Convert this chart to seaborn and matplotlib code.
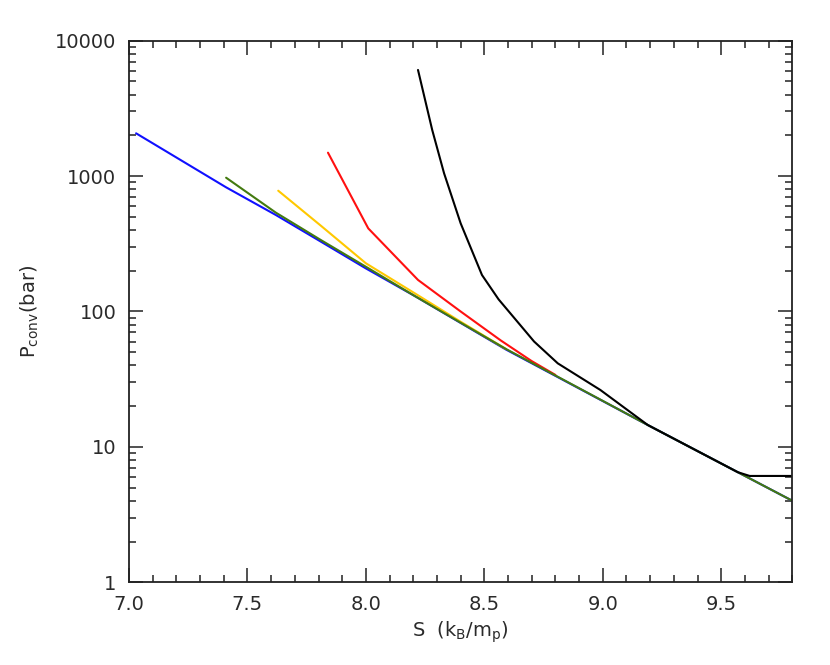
import pandas as pd
import matplotlib
matplotlib.use("Agg")
import matplotlib.pyplot as plt
import matplotlib.ticker as mticker
import seaborn as sns

# Convective pressure vs entropy
blue_s = [7.03, 7.41, 7.62, 7.81, 8.00, 8.21, 8.59, 9.19, 9.57, 9.80]
blue_p = [2070, 826, 516, 328, 208, 129, 52.5, 14.5, 6.5, 4.0]

green_s = [7.41, 7.62, 7.81, 8.00, 8.21, 8.59, 9.19, 9.57, 9.80]
green_p = [973, 537, 337, 214, 129, 53, 14.5, 6.5, 4.0]

yellow_s = [7.63, 7.81, 8.00, 8.21, 8.40, 8.59]
yellow_p = [780, 430, 227, 135, 84, 53]

red_s = [7.84, 8.01, 8.22, 8.40, 8.57, 8.70, 8.80]
red_p = [1489, 411, 171, 100, 61, 43, 34]

black_s = [8.22, 8.28, 8.33, 8.40, 8.49, 8.56, 8.71, 8.81, 8.99, 9.19, 9.57, 9.62, 9.80]
black_p = [6080, 2190, 1049, 448, 186, 123, 60, 41.4, 26.3, 14.5, 6.5, 6.1, 6.1]

sns.set_style("ticks")
plt.rcParams["font.family"] = ["DejaVu Sans"]
plt.rcParams["mathtext.default"] = "regular"

fig, ax = plt.subplots(figsize=(8.3, 6.65), dpi=100)
fig.subplots_adjust(left=0.1554, right=0.9546, top=0.9388, bottom=0.1244)

series = [
    (blue_s, blue_p, "#1010ff"),
    (yellow_s, yellow_p, "#ffc800"),
    (red_s, red_p, "#ff1010"),
    (green_s, green_p, "#437a10"),
    (black_s, black_p, "black"),
]
for s, p, c in series:
    df = pd.DataFrame({"S": s, "P": p})
    sns.lineplot(data=df, x="S", y="P", sort=False, color=c, linewidth=1.5, ax=ax)

ax.set_yscale("log")
ax.set_xlim(7.0, 9.8)
ax.set_ylim(1, 10000)
ax.set_xticks([7.0, 7.5, 8.0, 8.5, 9.0, 9.5])
ax.xaxis.set_major_formatter(mticker.FormatStrFormatter("%.1f"))
ax.xaxis.set_minor_locator(mticker.MultipleLocator(0.1))
ax.set_yticks([1, 10, 100, 1000, 10000])
ax.yaxis.set_major_formatter(mticker.FuncFormatter(lambda v, pos: f"{v:g}"))
ax.yaxis.set_minor_locator(mticker.LogLocator(base=10, subs=range(2, 10), numticks=20))
ax.yaxis.set_minor_formatter(mticker.NullFormatter())

ax.tick_params(which="both", direction="in", top=True, right=True, width=1.1,
               color="#222222", labelcolor="#2a2a2a")
ax.tick_params(which="major", length=10, labelsize=14, pad=9)
ax.tick_params(which="minor", length=5)
for sp in ax.spines.values():
    sp.set_visible(True)
    sp.set_linewidth(1.3)
    sp.set_color("#222222")

ax.set_xlabel("S  (k$_B$/m$_p$)", fontsize=14, color="#2a2a2a", labelpad=4)
ax.set_ylabel("P$_{conv}$(bar)", fontsize=14, color="#2a2a2a", labelpad=10)
ax.grid(False)

fig.savefig("out.png", dpi=100)
